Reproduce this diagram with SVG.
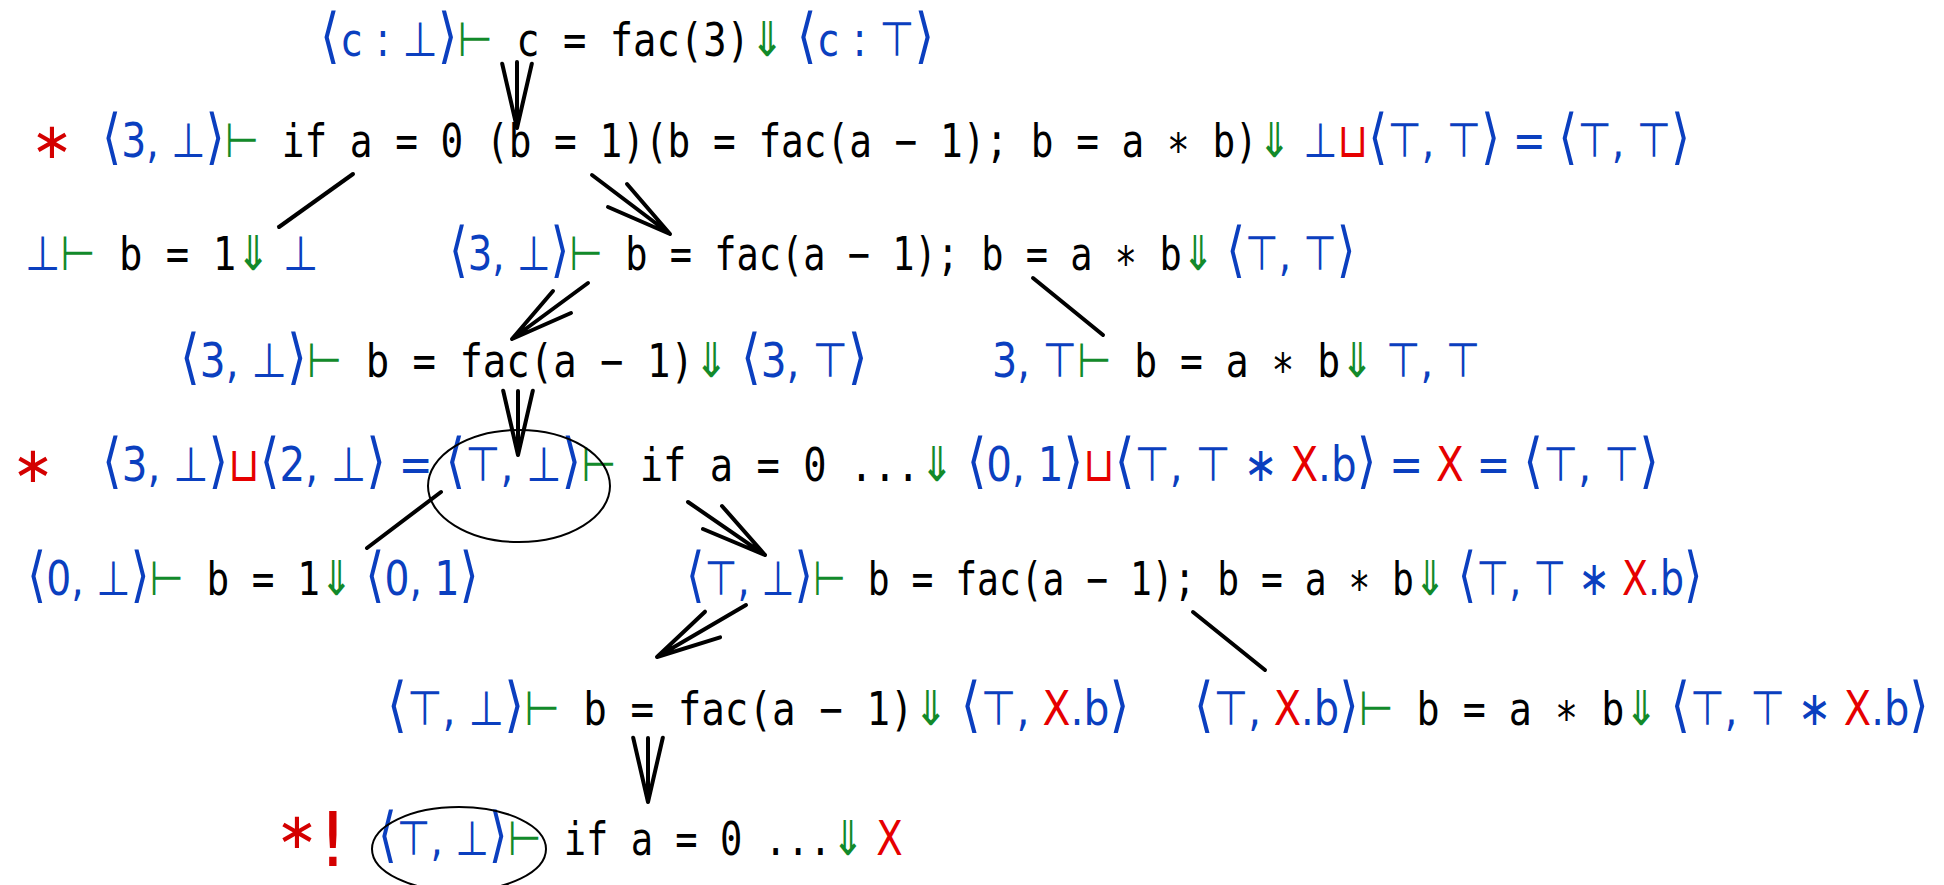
<svg xmlns="http://www.w3.org/2000/svg" width="1944" height="885" viewBox="0 0 1944 885">
<style>
.t{font-family:"DejaVu Sans",sans-serif;font-size:48px;}
.c{font-family:"DejaVu Sans Mono",monospace;font-size:46px;fill:#000;}
.a{font-size:60px;}
.b{fill:#0b3fbf;}
.g{fill:#128a2a;}
.r{fill:#e60000;}
.star{font-family:"DejaVu Sans",sans-serif;font-size:50px;fill:#d40000;}
.bang{font-size:74px;}
.ln{stroke:#000;stroke-width:4;fill:none;stroke-linecap:round;stroke-linejoin:round;}
.el{stroke:#000;stroke-width:2;fill:none;}
</style>
<rect width="1944" height="885" fill="#fff"/>
<g id="connectors">
<path class="ln" d="M517,62 L517,128 M502.2,63.7 L517,128 L531.8,63.7"/>
<path class="ln" d="M353,174 L279,227"/>
<path class="ln" d="M592,175 L670,234 M627,184 L670,234 L608,207"/>
<path class="ln" d="M588,283 L512,339 M553,291 L512,339 L571,313"/>
<path class="ln" d="M1033,278 L1103,335"/>
<path class="ln" d="M518,391 L518,455 M503.2,390.7 L518,455 L532.8,390.7"/>
<path class="ln" d="M441,492 L367,548"/>
<path class="ln" d="M688,502 L765,555 M722,506 L765,555 L703,529"/>
<path class="ln" d="M746,605 L657,657 M720.1,637.3 L657,657 L705,611.7"/>
<path class="ln" d="M1193,612 L1265,670"/>
<path class="ln" d="M648,738 L648,802 M633.2,737.7 L648,802 L662.8,737.7"/>
</g>
<g id="n1"><text class="t" transform="translate(320,56) scale(0.844,1)"><tspan class="b a">⟨</tspan><tspan class="c b">c</tspan><tspan class="b"> : ⊥</tspan><tspan class="b a">⟩</tspan><tspan class="g">⊢</tspan><tspan class="c"> c = fac(3)</tspan><tspan class="g">⇓</tspan><tspan class="b"> </tspan><tspan class="b a">⟨</tspan><tspan class="c b">c</tspan><tspan class="b"> : ⊤</tspan><tspan class="b a">⟩</tspan></text></g>
<g id="n2"><text class="star" x="31" y="158">∗</text><text class="t" transform="translate(102,157) scale(0.820,1)"><tspan class="b a">⟨</tspan><tspan class="b">3, ⊥</tspan><tspan class="b a">⟩</tspan><tspan class="g">⊢</tspan><tspan class="c"> if a = 0 (b = 1)(b = fac(a − 1); b = a ∗ b)</tspan><tspan class="g">⇓</tspan><tspan class="b"> ⊥</tspan><tspan class="r">⊔</tspan><tspan class="b a">⟨</tspan><tspan class="b">⊤, ⊤</tspan><tspan class="b a">⟩</tspan><tspan class="b"> = </tspan><tspan class="b a">⟨</tspan><tspan class="b">⊤, ⊤</tspan><tspan class="b a">⟩</tspan></text></g>
<g id="n3"><text class="t" transform="translate(25,270) scale(0.845,1)"><tspan class="b">⊥</tspan><tspan class="g">⊢</tspan><tspan class="c"> b = 1</tspan><tspan class="g">⇓</tspan><tspan class="b"> ⊥</tspan></text></g>
<g id="n4"><text class="t" transform="translate(449,270) scale(0.804,1)"><tspan class="b a">⟨</tspan><tspan class="b">3, ⊥</tspan><tspan class="b a">⟩</tspan><tspan class="g">⊢</tspan><tspan class="c"> b = fac(a − 1); b = a ∗ b</tspan><tspan class="g">⇓</tspan><tspan class="b"> </tspan><tspan class="b a">⟨</tspan><tspan class="b">⊤, ⊤</tspan><tspan class="b a">⟩</tspan></text></g>
<g id="n5"><text class="t" transform="translate(180,377) scale(0.847,1)"><tspan class="b a">⟨</tspan><tspan class="b">3, ⊥</tspan><tspan class="b a">⟩</tspan><tspan class="g">⊢</tspan><tspan class="c"> b = fac(a − 1)</tspan><tspan class="g">⇓</tspan><tspan class="b"> </tspan><tspan class="b a">⟨</tspan><tspan class="b">3, ⊤</tspan><tspan class="b a">⟩</tspan></text></g>
<g id="n6"><text class="t" transform="translate(992,377) scale(0.826,1)"><tspan class="b">3, ⊤</tspan><tspan class="g">⊢</tspan><tspan class="c"> b = a ∗ b</tspan><tspan class="g">⇓</tspan><tspan class="b"> ⊤, ⊤</tspan></text></g>
<g id="n7"><text class="star" x="12" y="482">∗</text><text class="t" transform="translate(102,481) scale(0.843,1)"><tspan class="b a">⟨</tspan><tspan class="b">3, ⊥</tspan><tspan class="b a">⟩</tspan><tspan class="r">⊔</tspan><tspan class="b a">⟨</tspan><tspan class="b">2, ⊥</tspan><tspan class="b a">⟩</tspan><tspan class="b"> = </tspan><tspan class="b a">⟨</tspan><tspan class="b">⊤, ⊥</tspan><tspan class="b a">⟩</tspan><tspan class="g">⊢</tspan><tspan class="c"> if a = 0 ...</tspan><tspan class="g">⇓</tspan><tspan class="b"> </tspan><tspan class="b a">⟨</tspan><tspan class="b">0, 1</tspan><tspan class="b a">⟩</tspan><tspan class="r">⊔</tspan><tspan class="b a">⟨</tspan><tspan class="b">⊤, ⊤ ∗ </tspan><tspan class="r">X</tspan><tspan class="b">.b</tspan><tspan class="b a">⟩</tspan><tspan class="b"> = </tspan><tspan class="r">X</tspan><tspan class="b"> = </tspan><tspan class="b a">⟨</tspan><tspan class="b">⊤, ⊤</tspan><tspan class="b a">⟩</tspan></text><ellipse class="el" cx="519" cy="486" rx="91" ry="56"/></g>
<g id="n8"><text class="t" transform="translate(27,595) scale(0.819,1)"><tspan class="b a">⟨</tspan><tspan class="b">0, ⊥</tspan><tspan class="b a">⟩</tspan><tspan class="g">⊢</tspan><tspan class="c"> b = 1</tspan><tspan class="g">⇓</tspan><tspan class="b"> </tspan><tspan class="b a">⟨</tspan><tspan class="b">0, 1</tspan><tspan class="b a">⟩</tspan></text></g>
<g id="n9"><text class="t" transform="translate(686,595) scale(0.789,1)"><tspan class="b a">⟨</tspan><tspan class="b">⊤, ⊥</tspan><tspan class="b a">⟩</tspan><tspan class="g">⊢</tspan><tspan class="c"> b = fac(a − 1); b = a ∗ b</tspan><tspan class="g">⇓</tspan><tspan class="b"> </tspan><tspan class="b a">⟨</tspan><tspan class="b">⊤, ⊤ ∗ </tspan><tspan class="r">X</tspan><tspan class="b">.b</tspan><tspan class="b a">⟩</tspan></text></g>
<g id="n10"><text class="t" transform="translate(387,725) scale(0.852,1)"><tspan class="b a">⟨</tspan><tspan class="b">⊤, ⊥</tspan><tspan class="b a">⟩</tspan><tspan class="g">⊢</tspan><tspan class="c"> b = fac(a − 1)</tspan><tspan class="g">⇓</tspan><tspan class="b"> </tspan><tspan class="b a">⟨</tspan><tspan class="b">⊤, </tspan><tspan class="r">X</tspan><tspan class="b">.b</tspan><tspan class="b a">⟩</tspan></text></g>
<g id="n11"><text class="t" transform="translate(1194,725) scale(0.833,1)"><tspan class="b a">⟨</tspan><tspan class="b">⊤, </tspan><tspan class="r">X</tspan><tspan class="b">.b</tspan><tspan class="b a">⟩</tspan><tspan class="g">⊢</tspan><tspan class="c"> b = a ∗ b</tspan><tspan class="g">⇓</tspan><tspan class="b"> </tspan><tspan class="b a">⟨</tspan><tspan class="b">⊤, ⊤ ∗ </tspan><tspan class="r">X</tspan><tspan class="b">.b</tspan><tspan class="b a">⟩</tspan></text></g>
<g id="n12"><text class="star" x="276" y="848">∗<tspan class="bang" dy="18">!</tspan></text><text class="t" transform="translate(378,855) scale(0.806,1)"><tspan class="b a">⟨</tspan><tspan class="b">⊤, ⊥</tspan><tspan class="b a">⟩</tspan><tspan class="g">⊢</tspan><tspan class="c"> if a = 0 ...</tspan><tspan class="g">⇓</tspan><tspan class="r"> X</tspan></text><ellipse class="el" cx="459" cy="849" rx="87" ry="42"/></g>
</svg>
